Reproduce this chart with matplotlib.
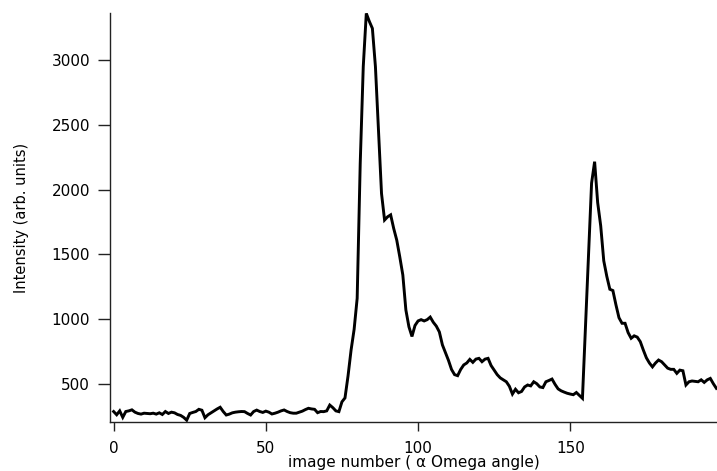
import numpy as np
import matplotlib
matplotlib.use("Agg")
import matplotlib.pyplot as plt

# intensity per image number (0..198)
baseline = [285, 260, 290, 240, 285, 290, 298, 280, 270, 265,
            272, 270, 268, 272, 265, 275, 262, 285, 270, 280,
            275, 262, 255, 240, 218, 270, 278, 285, 302, 295,
            237, 260, 275, 290, 305, 318, 285, 258, 265, 275,
            280, 283, 285, 284, 270, 258, 285, 296, 285, 278,
            288, 280, 266, 272, 280, 290, 297, 285, 276, 272,
            272, 280, 288, 300, 310, 305, 302, 276, 285, 284,
            290, 335, 315, 290, 284]
peak1 = [360, 390, 560, 760, 920, 1160, 2200, 2950, 3362, 3300,
         3246, 2950, 2460, 1970, 1765, 1790, 1805, 1700, 1610, 1480,
         1340, 1070, 940, 865, 950, 985, 995, 985, 995, 1015,
         975, 945, 900, 800, 740, 680, 610, 570, 562, 610,
         645, 660, 688, 665, 690, 696, 670, 690, 696, 640,
         605, 570, 545, 530, 515, 480, 420, 457, 430, 440,
         475, 490, 483, 515, 500, 475, 470, 515, 525, 536,
         495, 460, 445, 435, 426, 420, 415, 432, 410, 387]
peak2 = [940, 1495, 2050, 2216, 1900, 1720, 1450, 1330, 1230, 1220,
         1110, 1010, 967, 967, 895, 851, 870, 860, 825, 760,
         700, 660, 630, 660, 683, 670, 645, 620, 611, 611,
         580, 605, 600, 490, 515, 521, 518, 515, 530, 510,
         530, 541, 500, 464]

intensity = np.array(baseline + peak1 + peak2, dtype=float)
image_number = np.arange(len(intensity))

x_ticks = [0, 50, 100, 150]
y_ticks = [500, 1000, 1500, 2000, 2500, 3000]

fig = plt.figure(figsize=(7.17, 4.71), dpi=100)
ax = fig.add_axes([0.1538, 0.1034, 0.8462, 0.8683])

ax.plot(image_number, intensity, color="black", linewidth=2.1,
        solid_joinstyle="miter")

ax.set_xlim(-1.1, 198.2)
ax.set_ylim(201.7, 3362.5)
ax.set_xticks(x_ticks)
ax.set_yticks(y_ticks)

for side in ["top", "right"]:
    ax.spines[side].set_visible(False)
for side in ["left", "bottom"]:
    ax.spines[side].set_color("#222222")
    ax.spines[side].set_linewidth(1.0)

ax.tick_params(axis="y", direction="out", length=9, width=1.0,
               pad=5.5, labelsize=11, colors="#222222", labelcolor="black")
ax.tick_params(axis="x", direction="out", length=6.7, width=1.0,
               pad=7, labelsize=11, colors="#222222", labelcolor="black")

ax.set_xlabel("image number ( \u03b1 Omega angle)", fontsize=11,
              family="DejaVu Sans", labelpad=-1)
ax.set_ylabel("Intensity (arb. units)", fontsize=10.5,
              family=["Liberation Sans Narrow", "DejaVu Sans Condensed", "DejaVu Sans"])
ax.yaxis.set_label_coords(-0.134, 0.5)

fig.savefig("out.png", dpi=100)
